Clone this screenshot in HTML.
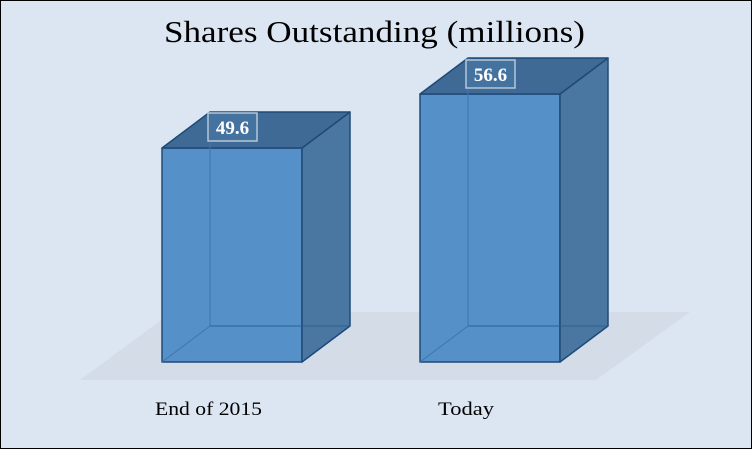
<!DOCTYPE html>
<html><head><style>
body{margin:0;background:#fff}
svg{display:block}
text{font-family:"Liberation Serif",serif}
</style></head><body>
<svg width="752" height="449" viewBox="0 0 752 449">
<rect x="0.5" y="0.5" width="751" height="448" fill="#dce6f2" stroke="#000"/>
<text x="164" y="42" font-size="31" fill="#000" textLength="421" lengthAdjust="spacingAndGlyphs">Shares Outstanding  (millions)</text>
<polygon points="80,380 596,380 690,312 172,312" fill="#d3dce7"/>
<g stroke="#1f4a78" stroke-width="1.5" stroke-linejoin="round">
<rect x="162" y="148" width="140" height="214" fill="#5590c8"/>
<polygon points="302,148 350,112 350,326 302,362" fill="#4a76a2"/>
<polygon points="162,148 210,112 350,112 302,148" fill="#3f6a96"/>
<line x1="210" y1="112" x2="210" y2="326" stroke="#3f75ab" stroke-width="1"/>
<line x1="210" y1="326" x2="350" y2="326" stroke="#2d5f92" stroke-width="1"/>
<line x1="210" y1="326" x2="162" y2="362" stroke="#3f75ab" stroke-width="1"/>
<rect x="420" y="94" width="140" height="268" fill="#5590c8"/>
<polygon points="560,94 608,58 608,326 560,362" fill="#4a76a2"/>
<polygon points="420,94 468,58 608,58 560,94" fill="#3f6a96"/>
<line x1="468" y1="58" x2="468" y2="326" stroke="#3f75ab" stroke-width="1"/>
<line x1="468" y1="326" x2="608" y2="326" stroke="#2d5f92" stroke-width="1"/>
<line x1="468" y1="326" x2="420" y2="362" stroke="#3f75ab" stroke-width="1"/>
</g>
<rect x="208" y="113" width="49" height="28" fill="#4573a0" stroke="#b6c6d8" stroke-width="1.5"/>
<text x="232.5" y="134" text-anchor="middle" font-size="19" font-weight="bold" fill="#fff">49.6</text>
<rect x="466" y="60" width="49" height="28" fill="#4573a0" stroke="#b6c6d8" stroke-width="1.5"/>
<text x="490.5" y="81" text-anchor="middle" font-size="19" font-weight="bold" fill="#fff">56.6</text>
<text x="155" y="415" font-size="19" fill="#000" textLength="107" lengthAdjust="spacingAndGlyphs">End of 2015</text>
<text x="438" y="415" font-size="19" fill="#000" textLength="56" lengthAdjust="spacingAndGlyphs">Today</text>
</svg>
</body></html>
